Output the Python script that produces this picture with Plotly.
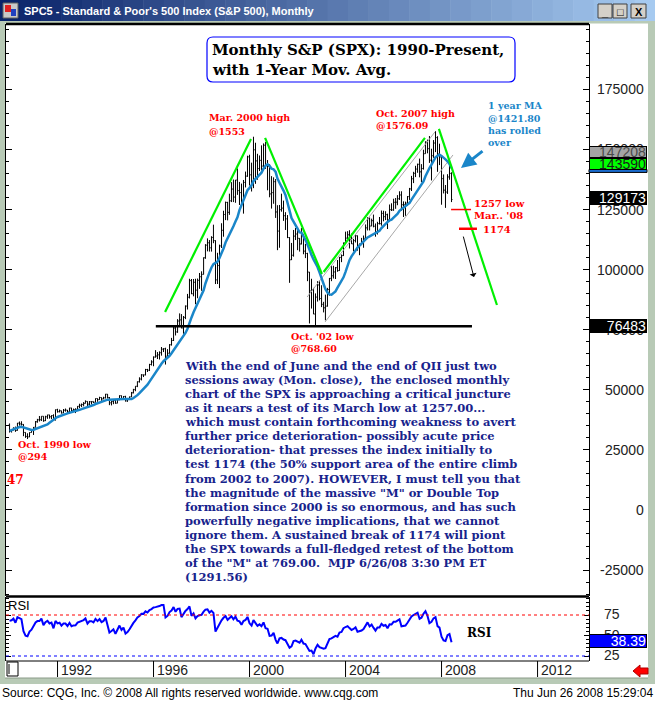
import numpy as np
import pandas as pd
import plotly.graph_objects as go

# ---- canvas geometry (pixels of the CQG window) ----
W, H = 655, 702
L, R, T, B = 6, 589, 24, 661


def px(x):
    return (x - L) / (R - L)


def py(y):
    return (B - y) / (B - T)


# ---- data: S&P 500 monthly, index points ----
START = "1990-01-01"

# 1988-1989 closes, only used to warm up the MA and RSI
PRE_CLOSE = [257.07, 267.82, 258.89, 261.33, 262.16, 273.50, 272.02, 261.52, 271.91, 278.97, 273.70, 277.72,
             297.47, 288.86, 294.87, 309.64, 320.52, 317.98, 346.08, 351.45, 349.15, 340.36, 345.99, 353.40]

CLOSE = [
    329.08, 331.89, 339.94, 330.80, 361.23, 358.02, 356.15, 322.56, 306.05, 304.00, 322.22, 330.22,
    343.93, 367.07, 375.22, 375.35, 389.83, 371.16, 387.81, 395.43, 387.86, 392.46, 375.22, 417.09,
    408.79, 412.70, 403.69, 414.95, 415.35, 408.14, 424.21, 414.03, 417.80, 418.68, 431.35, 435.71,
    438.78, 443.38, 451.67, 440.19, 450.19, 450.53, 448.13, 463.56, 458.93, 467.83, 461.79, 466.45,
    481.61, 467.14, 445.77, 450.91, 456.50, 444.27, 458.26, 475.49, 462.69, 472.35, 453.69, 459.27,
    470.42, 487.39, 500.71, 514.71, 533.40, 544.75, 562.06, 561.88, 584.41, 581.50, 605.37, 615.93,
    636.02, 640.43, 645.50, 654.17, 669.12, 670.63, 639.95, 651.99, 687.31, 705.27, 757.02, 740.74,
    786.16, 790.82, 757.12, 801.34, 848.28, 885.14, 954.29, 899.47, 947.28, 914.62, 955.40, 970.43,
    980.28, 1049.34, 1101.75, 1111.75, 1090.82, 1133.84, 1120.67, 957.28, 1017.01, 1098.67, 1163.63, 1229.23,
    1279.64, 1238.33, 1286.37, 1335.18, 1301.84, 1372.71, 1328.72, 1320.41, 1282.71, 1362.93, 1388.91, 1469.25,
    1394.46, 1366.42, 1498.58, 1452.43, 1420.60, 1454.60, 1430.83, 1517.68, 1436.51, 1429.40, 1314.95, 1320.28,
    1366.01, 1239.94, 1160.33, 1249.46, 1255.82, 1224.42, 1211.23, 1133.58, 1040.94, 1059.78, 1139.45, 1148.08,
    1130.20, 1106.73, 1147.39, 1076.92, 1067.14, 989.82, 911.62, 916.07, 815.28, 885.76, 936.31, 879.82,
    855.70, 841.15, 848.18, 916.92, 963.59, 974.50, 990.31, 1008.01, 995.97, 1050.71, 1058.20, 1111.92,
    1131.13, 1144.94, 1126.21, 1107.30, 1120.68, 1140.84, 1101.72, 1104.24, 1114.58, 1130.20, 1173.82, 1211.92,
    1181.27, 1203.60, 1180.59, 1156.85, 1191.50, 1191.33, 1234.18, 1220.33, 1228.81, 1207.01, 1249.48, 1248.29,
    1280.08, 1280.66, 1294.83, 1310.61, 1270.09, 1270.20, 1276.66, 1303.82, 1335.85, 1377.94, 1400.63, 1418.30,
    1438.24, 1406.82, 1420.86, 1482.37, 1530.62, 1503.35, 1455.27, 1473.99, 1526.75, 1549.38, 1481.14, 1468.36,
    1378.55, 1330.63, 1322.70, 1385.59, 1400.38, 1291.73,
]

HIGH = [
    360, 336, 344, 347, 362, 368, 369, 357, 323, 319, 323, 333,
    345, 370, 379, 391, 390, 390, 392, 396, 396, 394, 398, 418,
    421, 418, 413, 420, 422, 416, 425, 425, 422, 423, 432, 442,
    443, 449, 456, 452, 453, 452, 451, 464, 464, 471, 468, 471,
    483, 482, 470, 453, 458, 459, 461, 477, 476, 474, 475, 466,
    472, 491, 504, 515, 535, 552, 565, 563, 587, 587, 608, 623,
    639, 665, 657, 660, 678, 673, 675, 669, 690, 716, 762, 762,
    794, 818, 815, 807, 851, 899, 962, 961, 961, 962, 963, 986,
    993, 1051, 1106, 1130, 1123, 1139, 1187, 1122, 1070, 1104, 1193, 1245,
    1283, 1282, 1316, 1364, 1375, 1373, 1421, 1365, 1358, 1373, 1408, 1474,
    1478, 1445, 1553, 1528, 1482, 1475, 1517, 1525, 1531, 1456, 1439, 1389,
    1384, 1377, 1268, 1269, 1316, 1287, 1239, 1227, 1135, 1111, 1165, 1173,
    1176, 1131, 1173, 1148, 1107, 1070, 990, 962, 924, 901, 952, 954,
    935, 866, 896, 924, 965, 1015, 1016, 1011, 1040, 1053, 1063, 1112,
    1158, 1160, 1164, 1150, 1128, 1146, 1142, 1109, 1132, 1142, 1188, 1218,
    1217, 1212, 1229, 1192, 1199, 1219, 1246, 1245, 1243, 1233, 1271, 1276,
    1295, 1298, 1310, 1326, 1326, 1284, 1283, 1306, 1340, 1390, 1407, 1432,
    1441, 1462, 1439, 1499, 1534, 1541, 1556, 1503, 1539, 1576, 1555, 1524,
    1471, 1396, 1352, 1397, 1440, 1405,
]

LOW = [
    322, 322, 331, 325, 330, 351, 351, 307, 300, 295, 303, 322,
    312, 343, 363, 368, 370, 367, 370, 379, 380, 378, 375, 372,
    405, 406, 401, 403, 409, 403, 404, 410, 409, 403, 416, 424,
    428, 431, 443, 429, 434, 439, 445, 447, 450, 458, 454, 461,
    464, 464, 436, 435, 440, 442, 444, 457, 460, 460, 451, 450,
    459, 470, 485, 494, 511, 530, 539, 553, 560, 574, 578, 601,
    598, 634, 628, 626, 642, 657, 605, 638, 650, 684, 703, 726,
    737, 769, 756, 733, 794, 834, 880, 898, 889, 856, 881, 920,
    912, 980, 1045, 1076, 1075, 1075, 1110, 940, 940, 923, 1090, 1137,
    1206, 1205, 1228, 1281, 1281, 1278, 1311, 1269, 1268, 1233, 1342, 1386,
    1350, 1325, 1339, 1357, 1374, 1410, 1413, 1425, 1419, 1330, 1301, 1254,
    1274, 1215, 1081, 1091, 1241, 1203, 1165, 1131, 945, 1040, 1054, 1123,
    1081, 1075, 1105, 1064, 1048, 952, 776, 838, 815, 769, 867, 872,
    844, 822, 789, 846, 891, 952, 963, 961, 991, 995, 1031, 1057,
    1109, 1125, 1088, 1107, 1076, 1113, 1079, 1060, 1102, 1091, 1128, 1163,
    1163, 1181, 1176, 1137, 1146, 1188, 1183, 1201, 1206, 1169, 1202, 1244,
    1245, 1253, 1268, 1290, 1245, 1219, 1224, 1265, 1290, 1327, 1360, 1385,
    1403, 1384, 1364, 1416, 1482, 1484, 1444, 1371, 1465, 1489, 1407, 1435,
    1270, 1317, 1257, 1315, 1374, 1281,
]

# hand-drawn study lines (date, index points)
M_X = ["1996-06-25", "2000-01-23", None, "2000-08-25", "2003-01-07", None,
       "2003-02-02", "2007-04-23", None, "2007-11-22", "2010-04-23"]
M_Y = [823.6, 1543.8, None, 1548, 981.8, None, 990, 1548, None, 1585.3, 852.8]
CHAN_X = ["2002-05-26", "2007-09-23", None, "2003-02-23", "2008-06-23"]
CHAN_Y = [886, 1573, None, 782, 1477]
SUPPORT_X = ["1996-02-05", "2009-04-08"]
SUPPORT_Y = [764.83, 764.83]
LOW_1257_X = ["2008-05-25", "2009-03-25"]
LOW_1257_Y = [1250, 1250]
SUP_1174_X = ["2008-09-23", "2009-06-23"]
SUP_1174_Y = [1170, 1170]

PRICE_TICKS = [-250, 0, 250, 500, 750, 1000, 1250, 1500, 1750]
PRICE_TICK_TEXT = ["-25000", "0", "25000", "50000", "75000", "100000", "125000", "150000", "175000"]
RSI_TICKS = [25, 50, 75]
YEAR_TICKS = [1992, 1996, 2000, 2004, 2008, 2012]

# last-value boxes on the right scale: text, y (points or rsi), bg, fg, box height
PRICE_BOXES = [
    ("147208", 1487.5, "#a4a4a4", "#4a4a4a", 10),
    ("143590", 1439.6, "#00ff00", "#1a1a1a", 10),
    ("129173", 1298.0, "black", "white", 12),
    ("76483", 765.0, "black", "white", 12),
]
RSI_BOX = ("38.39", 43.5, "#0000ff", "white", 12)

BODY_LINES = [
    "With the end of June and the end of QII just two",
    "sessions away (Mon. close),  the enclosed monthly",
    "chart of the SPX is approaching a critical juncture",
    "as it nears a test of its March low at 1257.00...",
    "which must contain forthcoming weakness to avert",
    "further price deterioration- possibly acute price",
    "deterioration- that presses the index initially to",
    "test 1174 (the 50% support area of the entire climb",
    "from 2002 to 2007). HOWEVER, I must tell you that",
    "the magnitude of the massive \"M\" or Double Top",
    "formation since 2000 is so enormous, and has such",
    "powerfully negative implications, that we cannot",
    "ignore them. A sustained break of 1174 will piont",
    "the SPX towards a full-fledged retest of the bottom",
    "of the \"M\" at 769.00.  MJP 6/26/08 3:30 PM ET",
    "(1291.56)",
]

# ---- derived studies ----
dates = pd.date_range(START, periods=len(CLOSE), freq="MS")
n_pre = len(PRE_CLOSE)
all_close = pd.Series(PRE_CLOSE + CLOSE)
opens = all_close.shift(1).iloc[n_pre:].to_numpy()
ma12 = all_close.rolling(12).mean().iloc[n_pre:].to_numpy()
delta = all_close.diff()
gain = delta.clip(lower=0).ewm(alpha=1 / 14, adjust=False).mean()
loss = (-delta.clip(upper=0)).ewm(alpha=1 / 14, adjust=False).mean()
rsi = (100 - 100 / (1 + gain / loss)).iloc[n_pre:].to_numpy()

SERIF = "DejaVu Serif"
SANS = "Liberation Sans"
RED = "#ff0000"
NAVY = "#17238c"
MA_BLUE = "#1a86c9"
FRAME = "#b8cab6"

fig = go.Figure()

fig.add_trace(go.Scatter(x=CHAN_X, y=CHAN_Y, mode="lines", line=dict(color="#a8a8a8", width=1),
                         hoverinfo="skip"))
fig.add_trace(go.Ohlc(x=dates, open=opens, high=HIGH, low=LOW, close=CLOSE,
                      increasing_line_color="black", decreasing_line_color="black",
                      line_width=1, tickwidth=0.5))
fig.add_trace(go.Scatter(x=dates, y=ma12, mode="lines", line=dict(color=MA_BLUE, width=2.5)))
fig.add_trace(go.Scatter(x=M_X, y=M_Y, mode="lines", line=dict(color="#00f000", width=2.2),
                         hoverinfo="skip"))
fig.add_trace(go.Scatter(x=SUPPORT_X, y=SUPPORT_Y, mode="lines", line=dict(color="black", width=2.5),
                         hoverinfo="skip"))
fig.add_trace(go.Scatter(x=LOW_1257_X, y=LOW_1257_Y, mode="lines", line=dict(color=RED, width=1.5),
                         hoverinfo="skip"))
fig.add_trace(go.Scatter(x=SUP_1174_X, y=SUP_1174_Y, mode="lines", line=dict(color=RED, width=2.5),
                         hoverinfo="skip"))
fig.add_trace(go.Scatter(x=dates, y=rsi, yaxis="y2", mode="lines", line=dict(color="#0000ff", width=2)))

shapes = []
ann = []


def rect(x0, y0, x1, y1, fill, line=None, lw=0):
    shapes.append(dict(type="rect", xref="paper", yref="paper", x0=px(x0), x1=px(x1), y0=py(y1), y1=py(y0),
                       fillcolor=fill, line=dict(color=line or fill, width=lw), layer="above"))


def hline(x0, x1, y, color="black", width=1, dash="solid"):
    shapes.append(dict(type="line", xref="paper", yref="paper", x0=px(x0), x1=px(x1), y0=py(y), y1=py(y),
                       line=dict(color=color, width=width, dash=dash), layer="above"))


def label(x, y, text, color="black", size=10, family=SERIF, bold=True, anchor="left"):
    ann.append(dict(x=px(x), y=py(y), xref="paper", yref="paper", text=f"<b>{text}</b>" if bold else text,
                    showarrow=False, xanchor=anchor, yanchor="middle",
                    font=dict(family=family, size=size, color=color)))


def rounded(x0, y0, x1, y1, r):
    pts = [("M", [(x0 + r, y0)]), ("L", [(x1 - r, y0)]), ("Q", [(x1, y0), (x1, y0 + r)]),
           ("L", [(x1, y1 - r)]), ("Q", [(x1, y1), (x1 - r, y1)]), ("L", [(x0 + r, y1)]),
           ("Q", [(x0, y1), (x0, y1 - r)]), ("L", [(x0, y0 + r)]), ("Q", [(x0, y0), (x0 + r, y0)])]
    d = " ".join(c + " " + " ".join(f"{px(a):.5f},{py(b):.5f}" for a, b in p) for c, p in pts)
    return d + " Z"


# ---- window chrome ----
n_steps = 32
c0, c1 = np.array([10, 36, 106]), np.array([166, 202, 240])
for i in range(n_steps):
    col = c0 + (c1 - c0) * i / (n_steps - 1)
    rect(i * W / n_steps, 0, (i + 1) * W / n_steps + 0.5, 21, "rgb(%d,%d,%d)" % tuple(col))
rect(0, 21, W, 23.5, FRAME)
rect(0, 21, 5, 684, FRAME)
rect(648, 21, W, 684, FRAME)
rect(0, 678, W, 684, FRAME)
hline(5, 648, 678, "#8a9a88", 1)
rect(3, 3, 18, 18, "#c8c8c8", "#606060", 1)
rect(5, 5, 11, 12, "#e02020")
rect(11, 9, 16, 16, "#2040c0")
for bx0, bx1, glyph in [(598, 612, "_"), (613, 627, "□"), (631, 646, "X")]:
    rect(bx0, 4, bx1, 18, "#d4d0c8", "#404040", 1)
    label((bx0 + bx1) / 2, 11.5, glyph, "black", 11, SANS, True, "center")
label(22, 11, "SPC5 - Standard & Poor's 500 Index (S&P 500), Monthly", "white", 11, SANS, True)

# ---- panel frames ----
hline(L, R, 24, "black", 2.5)
hline(L, R, 596.5, "black", 2.5)
hline(L, R, 661, "black", 1)
shapes.append(dict(type="line", xref="paper", yref="y2", x0=0, x1=1, y0=75, y1=75,
                   line=dict(color=RED, width=1, dash="3px,3px")))
shapes.append(dict(type="line", xref="paper", yref="y2", x0=0, x1=1, y0=25, y1=25,
                   line=dict(color="#0000ff", width=1, dash="3px,3px")))

# x-axis band
for yr in YEAR_TICKS:
    shapes.append(dict(type="line", xref="x", yref="paper", x0=f"{yr}-01-01", x1=f"{yr}-01-01",
                       y0=py(661), y1=py(677), line=dict(color="black", width=1)))
    ann.append(dict(x=f"{yr}-01-01", y=py(669.5), xref="x", yref="paper", text=str(yr), showarrow=False,
                    xanchor="left", yanchor="middle", xshift=1,
                    font=dict(family=SANS, size=14, color="#222222")))
rect(7, 662, 18, 676, "white", "black", 1)
shapes.append(dict(type="line", xref="paper", yref="paper", x0=px(9), x1=px(9), y0=py(664), y1=py(674),
                   line=dict(color="black", width=1)))
arrow = [(633, 671), (640, 665), (640, 668), (648, 668), (648, 674), (640, 674), (640, 677)]
shapes.append(dict(type="path", xref="paper", yref="paper",
                   path="M " + " L ".join(f"{px(a):.5f},{py(b):.5f}" for a, b in arrow) + " Z",
                   fillcolor="#ff0000", line=dict(color="#b00000", width=1)))

# title box
shapes.append(dict(type="path", xref="paper", yref="paper", path=rounded(207, 37, 515, 82, 6),
                   fillcolor="white", line=dict(color="#0000ff", width=1.2), layer="above"))
label(210, 50, "Monthly S&amp;P (SPX): 1990-Present,", "black", 15)
label(210, 70, "with 1-Year Mov. Avg.", "black", 15)

# chart notes
label(207, 118, "Mar. 2000 high", RED, 9.5)
label(207, 131, "@1553", RED, 9.5)
label(374, 113, "Oct. 2007 high", RED, 9.5)
label(374, 125, "@1576.09", RED, 9.5)
for i, t in enumerate(["1 year MA", "@1421.80", "has rolled", "over"]):
    label(486, 106 + i * 12.3, t, MA_BLUE, 9.5)
label(472, 204, "1257 low", RED, 10)
label(472, 216, "Mar.. '08", RED, 10)
label(481, 229, "1174", RED, 10)
label(289, 336, "Oct. '02 low", RED, 9.5)
label(289, 348, "@768.60", RED, 9.5)
label(16, 444, "Oct. 1990 low", RED, 9.5)
label(16, 456, "@294", RED, 9.5)
label(5, 480, "47", RED, 12)
for i, t in enumerate(BODY_LINES):
    label(183, 366 + i * 14.07, t.replace("&", "&amp;"), NAVY, 11.5)
label(465, 633, "RSI", "black", 12)
label(6, 605, "RSI", "black", 13, SANS, False)

ann.append(dict(x="2009-05-08", y=969, xref="x", yref="y", ax=-11, ay=-42, text="", showarrow=True,
                arrowhead=1, arrowsize=1.2, arrowwidth=1, arrowcolor="black"))
ann.append(dict(x="2008-10-23", y=1423, xref="x", yref="y", ax=23, ay=-18, text="", showarrow=True,
                arrowhead=2, arrowsize=1, arrowwidth=3, arrowcolor=MA_BLUE))

# right scale labels and value boxes
for v, t in zip(PRICE_TICKS, PRICE_TICK_TEXT):
    ann.append(dict(x=px(646), y=v, xref="paper", yref="y", text=t, showarrow=False, xanchor="right",
                    yanchor="middle", font=dict(family=SANS, size=14, color="#222222")))
for v in RSI_TICKS:
    ann.append(dict(x=px(622), y=v, xref="paper", yref="y2", text=str(v), showarrow=False, xanchor="right",
                    yanchor="middle", yshift=1, font=dict(family=SANS, size=14, color="#222222")))
shapes.append(dict(type="rect", xref="paper", yref="y", x0=px(589), x1=px(647), y0=1404.5, y1=1416.5,
                   fillcolor="#1a6cd0", line=dict(color="black", width=1), layer="above"))
for t, v, bg, fg, h in PRICE_BOXES + [RSI_BOX]:
    ann.append(dict(x=px(589), y=v, xref="paper", yref="y2" if t == RSI_BOX[0] else "y", text=t,
                    showarrow=False, xanchor="left", yanchor="middle", width=56, height=h, align="right",
                    bgcolor=bg, bordercolor="black", borderwidth=1, borderpad=0,
                    font=dict(family=SANS, size=14, color=fg)))

# footer
label(0, 693, "Source: CQG, Inc. © 2008 All rights reserved worldwide. www.cqg.com", "black", 12, SANS, False)
label(655, 693, "Thu Jun 26 2008 15:29:04", "black", 12, SANS, False, "right")

fig.update_layout(
    width=W, height=H,
    margin=dict(l=L, r=W - R, t=T, b=H - B, pad=0),
    paper_bgcolor="white", plot_bgcolor="white",
    showlegend=False,
    xaxis=dict(type="date", range=["1989-11-08", "2014-02-22"], showticklabels=False, ticks="",
               showgrid=False, zeroline=False, showline=False, anchor="y2",
               rangeslider=dict(visible=False)),
    yaxis=dict(domain=[py(596), 1], range=[-358, 2022], side="right", showgrid=False, zeroline=False,
               showline=True, linecolor="black", linewidth=1, mirror="ticks",
               ticks="inside", ticklen=6, tickcolor="black", tickvals=PRICE_TICKS, showticklabels=False,
               minor=dict(ticks="inside", ticklen=3, tickcolor="black", dtick=50, tick0=0, showgrid=False)),
    yaxis2=dict(domain=[0, py(597)], range=[18.9, 96.95], side="right", showgrid=False, zeroline=False,
                showline=True, linecolor="black", linewidth=1, mirror="ticks",
                ticks="inside", ticklen=5, tickcolor="black", tickvals=RSI_TICKS, showticklabels=False,
                minor=dict(ticks="inside", ticklen=3, tickcolor="black", dtick=5, tick0=0, showgrid=False)),
    shapes=shapes,
    annotations=ann,
)

# the page body has a default 8px margin; drop it so the figure sits at the window origin
fig.write_html("out.html", config={"displayModeBar": False},
               post_script="document.body.style.margin='0px';")
